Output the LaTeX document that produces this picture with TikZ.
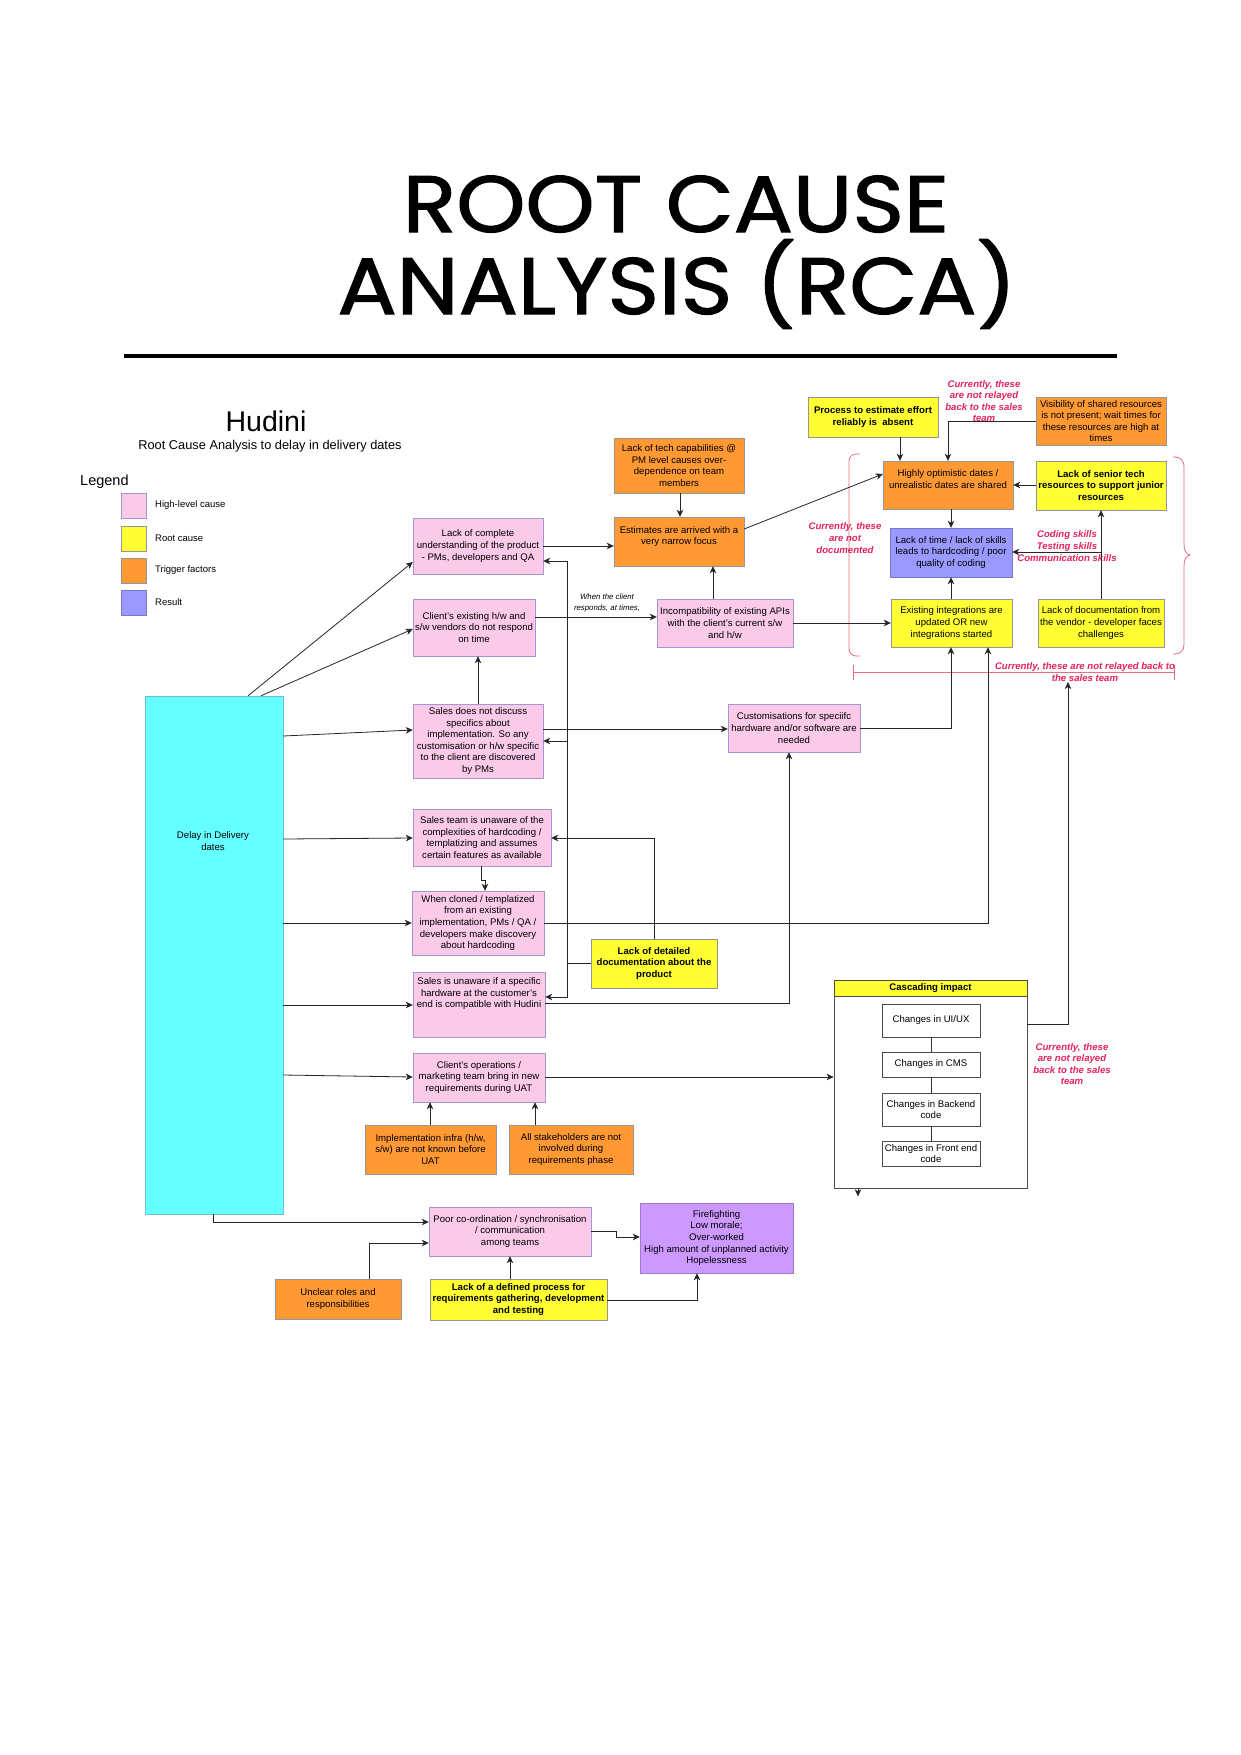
\documentclass[tikz,border=0pt]{standalone}
\usepackage{fontspec}
\setmainfont{Liberation Sans}
\newfontfamily\titlefont{Poppins}[RawFeature={embolden=1.4}]
\usetikzlibrary{arrows.meta,shadows}
\definecolor{cpink}{RGB}{250,202,232}
\definecolor{cpinkb}{RGB}{165,150,210}
\definecolor{cyellow}{RGB}{255,255,51}
\definecolor{corange}{RGB}{255,153,51}
\definecolor{cgrayb}{RGB}{150,150,150}
\definecolor{cblue}{RGB}{153,153,255}
\definecolor{cblueb}{RGB}{120,120,200}
\definecolor{cpurple}{RGB}{204,153,255}
\definecolor{cpurpleb}{RGB}{160,120,210}
\definecolor{ccyan}{RGB}{102,255,255}
\definecolor{ccyanb}{RGB}{110,190,210}
\definecolor{cred}{RGB}{226,35,92}
\definecolor{credl}{RGB}{228,110,130}
\newcommand\bx[7]{\node[#2, minimum width={(#5-#3)*1pt}, minimum height={(#6-#4)*1pt}] (#1) at ({(#3+#5)/2},{(#4+#6)/2}) {#7};}
\tikzset{
  boxbase/.style={draw, rectangle, align=center, inner sep=0pt, font=\fontsize{9.6}{11.6}\selectfont},
  box/.style={boxbase, drop shadow={shadow xshift=1.3pt,shadow yshift=-1.3pt,opacity=0.25,fill=black}},
  pinkbox/.style={box, fill=cpink, draw=cpinkb},
  yellowbox/.style={box, fill=cyellow, draw=cgrayb},
  ybold/.style={yellowbox, font=\fontsize{9.6}{11.6}\selectfont\bfseries},
  orangebox/.style={box, fill=corange, draw=cgrayb},
  bluebox/.style={box, fill=cblue, draw=cblueb},
  purplebox/.style={box, fill=cpurple, draw=cpurpleb},
  whitebox/.style={boxbase, fill=white, draw=black!70, line width=0.7pt},
  cascbox/.style={boxbase, fill=white, draw=black!70, line width=0.7pt},
  casch/.style={boxbase, fill=cyellow, draw=black!70, line width=0.7pt, font=\fontsize{9.6}{11.6}\selectfont\bfseries},
  arr/.style={draw=black!85, line width=0.8pt, -{Stealth[length=7pt,width=6.5pt,inset=2pt]}},
  ln/.style={draw=black!80, line width=0.8pt},
  redtxt/.style={text=cred, font=\fontsize{9.6}{11.6}\selectfont\bfseries\itshape, align=center, inner sep=0pt},
  redline/.style={draw=credl, line width=0.8pt},
  legtxt/.style={anchor=west, inner sep=0pt, font=\fontsize{9.5}{11}\selectfont},
}
\begin{document}
\begin{tikzpicture}[x=1pt,y=-1pt]
\useasboundingbox[fill=white] (0,0) rectangle (1241,1755);
% ---------- title ----------
\node[anchor=base, inner sep=0pt] (t1) at (676,232) {\titlefont\fontsize{80}{80}\selectfont\scalebox{1.1}[1]{ROOT CAUSE}};
\node[anchor=base, inner sep=0pt] (t2) at (677,314) {\titlefont\fontsize{80}{80}\selectfont\scalebox{1.1}[1]{ANALYSIS (RCA)}};
\draw[line width=4.5pt] (124,356) -- (1117,356);
% ---------- header and legend ----------
\node[inner sep=0pt, font=\fontsize{28.5}{30}\selectfont] (hud) at (266,421) {Hudini};
\node[inner sep=0pt, font=\fontsize{12.8}{14}\selectfont] (hudsub) at (270,446) {Root Cause Analysis to delay in delivery dates};
\node[anchor=west, inner sep=0pt, font=\fontsize{14.5}{16}\selectfont] (legend) at (80,482) {Legend};
\bx{lg1}{pinkbox}{121}{493}{146}{518}{}
\bx{lg2}{yellowbox}{121}{526}{146}{551}{}
\bx{lg3}{orangebox}{121}{558}{146}{583}{}
\bx{lg4}{bluebox}{121}{590}{146}{615}{}
\node[legtxt] (lt1) at (155,505) {High-level cause};
\node[legtxt] (lt2) at (155,538) {Root cause};
\node[legtxt] (lt3) at (155,570) {Trigger factors};
\node[legtxt] (lt4) at (155,602) {Result};
% ---------- result box ----------
\bx{Delay}{box, fill=ccyan, draw=ccyanb}{145}{696}{283}{1214}{}
\node[align=center, inner sep=0pt, font=\fontsize{9.6}{11.6}\selectfont] (DelayTxt) at (213,841) {Delay in Delivery\\dates};
% ---------- left column ----------
\bx{LackComplete}{pinkbox}{413}{518}{543}{574}{Lack of complete\\understanding of the product\\- PMs, developers and QA}
\bx{ClientExisting}{pinkbox}{413}{599}{535}{656}{Client's existing h/w and\\s/w vendors do not respond\\on time}
\bx{SalesNotDiscuss}{pinkbox}{413}{704}{543}{778}{Sales does not discuss\\specifics about\\implementation. So any\\customisation or h/w specific\\to the client are discovered\\by PMs}
\bx{SalesTeamUnaware}{pinkbox}{413}{809}{551}{866}{Sales team is unaware of the\\complexities of hardcoding /\\templatizing and assumes\\certain features as available}
\bx{WhenCloned}{pinkbox}{412}{891}{544}{955}{When cloned / templatized\\from an existing\\implementation, PMs / QA /\\developers make discovery\\about hardcoding}
\bx{SalesUnaware}{pinkbox}{413}{972}{545}{1037}{Sales is unaware if a specific\\hardware at the customer's\\end is compatible with Hudini\\~\\~}
\bx{ClientOps}{pinkbox}{413}{1053}{545}{1102}{Client's operations /\\marketing team bring in new\\requirements during UAT}
\bx{ImplInfra}{orangebox}{365}{1125}{496}{1174}{Implementation infra (h/w,\\s/w) are not known before\\UAT}
\bx{AllStake}{orangebox}{509}{1125}{633}{1174}{All stakeholders are not\\involved during\\requirements phase}
\bx{Poor}{pinkbox}{429}{1207}{591}{1256}{Poor co-ordination / synchronisation\\/ communication\\among teams}
\bx{Fire}{purplebox}{640}{1203}{793}{1273}{Firefighting\\Low morale;\\Over-worked\\High amount of unplanned activity\\Hopelessness}
\bx{Unclear}{orangebox}{275}{1279}{401}{1319}{Unclear roles and\\responsibilities}
\bx{LackDefined}{ybold}{430}{1279}{607}{1320}{Lack of a defined process for\\requirements gathering, development\\and testing}
% ---------- middle ----------
\bx{LackTech}{orangebox}{614}{438}{744}{493}{Lack of tech capabilities @\\PM level causes over-\\dependence on team\\members}
\bx{Estimates}{orangebox}{614}{517}{744}{566}{Estimates are arrived with a\\very narrow focus\\~}
\bx{Incompat}{pinkbox}{657}{599}{793}{647}{Incompatibility of existing APIs\\with the client's current s/w\\and h/w}
\bx{Custom}{pinkbox}{728}{704}{860}{752}{Customisations for speciifc\\hardware and/or software are\\needed}
\bx{DetailedDoc}{ybold}{591}{939}{717}{988}{Lack of detailed\\documentation about the\\product}
% ---------- top right ----------
\bx{Process}{ybold}{808}{397}{938}{437}{Process to estimate effort\\reliably is\ \ absent}
\bx{Visibility}{orangebox}{1036}{397}{1166}{445}{Visibility of shared resources\\is not present; wait times for\\these resources are high at\\times}
\bx{Highly}{orangebox}{883}{461}{1013}{509}{Highly optimistic dates /\\unrealistic dates are shared\\~}
\bx{Senior}{ybold}{1036}{461}{1166}{510}{Lack of senior tech\\resources to support junior\\resources}
\bx{LackTime}{bluebox}{890}{528}{1012}{577}{Lack of time / lack of skills\\leads to hardcoding / poor\\quality of coding}
\bx{Existing}{yellowbox}{891}{599}{1012}{647}{Existing integrations are\\updated OR new\\integrations started}
\bx{VendorDoc}{yellowbox}{1038}{599}{1164}{647}{Lack of documentation from\\the vendor - developer faces\\challenges}
% ---------- cascading impact ----------
\bx{Casc}{cascbox}{834}{980}{1027}{1188}{}
\bx{CascHead}{casch}{834}{980}{1027}{996}{Cascading impact}
\bx{UIUX}{whitebox}{882}{1004}{980}{1037}{Changes in UI/UX}
\bx{CMS}{whitebox}{882}{1052}{980}{1077}{Changes in CMS}
\bx{Backend}{whitebox}{882}{1093}{980}{1126}{Changes in Backend\\code}
\bx{Frontend}{whitebox}{882}{1141}{980}{1166}{Changes in Front end\\code}
\draw[ln] (UIUX.south) -- (CMS.north);
\draw[ln] (CMS.south) -- (Backend.north);
\draw[ln] (Backend.south) -- (Frontend.north);
% ---------- red annotations ----------
\draw[redline, rounded corners=7pt] (860,454) -- (849,454) -- (849,656) -- (860,656);
\draw[redline] (1173,457) .. controls (1181,457) and (1184,460) .. (1184,468) -- (1184,544) .. controls (1184,551) and (1186,554) .. (1190,555) .. controls (1186,556) and (1184,559) .. (1184,566) -- (1184,644) .. controls (1184,651) and (1181,654) .. (1173,654);
\draw[redline] (853,672) -- (1174,672);
\draw[redline] (853,665) -- (853,680);
\draw[redline] (1174,665) -- (1174,680);
\node[redtxt] (rt1) at (984,401) {Currently, these\\are not relayed\\back to the sales\\team};
\node[redtxt] (rt2) at (845,538) {Currently, these\\are not\\documented};
\node[redtxt] (rt3) at (1067,546) {Coding skills\\Testing skills\\Communication skills};
\node[redtxt] (rt4) at (1085,672) {Currently, these are not relayed back to\\the sales team};
\node[redtxt] (rt5) at (1072,1064) {Currently, these\\are not relayed\\back to the sales\\team};
\node[align=center, inner sep=0pt, font=\fontsize{7.8}{10.8}\selectfont\itshape] (whenlbl) at (607,603) {When the client\\responds, at times,};
% ---------- connectors ----------
\coordinate (skj) at (1101,552);
\coordinate (redtip) at (1068,682);
\coordinate (busj) at (567,963);
\coordinate (bus2) at (567,741);
\draw[arr] (Process.south -| 900,0) -- (Highly.north -| 900,0);
\draw[arr] (Visibility.west |- 0,421) -| (Highly.north -| 948,0);
\draw[arr] (Senior.west |- 0,485) -- (Highly.east |- 0,485);
\draw[arr] (Highly.south -| 951,0) -- (LackTime.north -| 951,0);
\draw[arr] (Existing.north -| 951,0) -- (LackTime.south -| 951,0);
\draw[arr] (VendorDoc.north -| 1101,0) -- (Senior.south -| 1101,0);
\draw[arr] (skj) -- (LackTime.east |- skj);
\draw[arr] (Estimates.east |- 0,529) -- (Highly.west |- 0,474);
\draw[arr] (LackTech.south -| 680,0) -- (Estimates.north -| 680,0);
\draw[arr] (Incompat.north -| 713,0) -- (Estimates.south -| 713,0);
\draw[arr] (Incompat.east |- 0,623) -- (Existing.west |- 0,623);
\draw[arr] (ClientExisting.east |- 0,617) -- (Incompat.west |- 0,617);
\draw[arr] (LackComplete.east |- 0,546) -- (Estimates.west |- 0,546);
\draw[arr] (Custom.east |- 0,728) -| (Existing.south -| 951,0);
\draw[arr] (WhenCloned.east |- 0,923) -| (Existing.south -| 988,0);
\draw[arr] (Casc.east |- 0,1024) -| (redtip);
\draw[arr] (SalesNotDiscuss.north -| 478,0) -- (ClientExisting.south -| 478,0);
\draw[arr] (SalesNotDiscuss.east |- 0,729) -- (Custom.west |- 0,729);
\draw[arr] (DetailedDoc.west |- busj) -- (busj) -- (567,561) -- (LackComplete.east |- 0,561);
\draw[arr] (bus2) -- (SalesNotDiscuss.east |- bus2);
\draw[arr] (busj) -- (567,997) -- (SalesUnaware.east |- 0,997);
\draw[arr] (DetailedDoc.north -| 654,0) |- (SalesTeamUnaware.east |- 0,838);
\draw[arr] (SalesTeamUnaware.south -| 481,0) -- (481,880) -- (485,880) -- (WhenCloned.north -| 485,0);
\draw[arr] (SalesUnaware.east |- 0,1003) -| (Custom.south -| 789,0);
\draw[arr] (ClientOps.east |- 0,1077) -- (Casc.west |- 0,1077);
\draw[arr] (Delay.north -| 248,0) -- (LackComplete.west |- 0,562);
\draw[arr] (Delay.north -| 261,0) -- (ClientExisting.west |- 0,629);
\draw[arr] (Delay.east |- 0,736) -- (SalesNotDiscuss.west |- 0,730);
\draw[arr] (Delay.east |- 0,839) -- (SalesTeamUnaware.west |- 0,838);
\draw[arr] (Delay.east |- 0,923) -- (WhenCloned.west |- 0,923);
\draw[arr] (Delay.east |- 0,1005) -- (SalesUnaware.west |- 0,1005);
\draw[arr] (Delay.east |- 0,1075) -- (ClientOps.west |- 0,1077);
\draw[arr] (Delay.south -| 213,0) |- (Poor.west |- 0,1222);
\draw[arr] (Unclear.north -| 369,0) |- (Poor.west |- 0,1243);
\draw[arr] (LackDefined.north -| 510,0) -- (Poor.south -| 510,0);
\draw[arr] (LackDefined.east |- 0,1300) -| (Fire.south -| 697,0);
\draw[arr] (Poor.east |- 0,1231) -- (616,1231) -- (616,1237) -- (Fire.west |- 0,1237);
\draw[arr] (ImplInfra.north -| 430,0) -- (ClientOps.south -| 430,0);
\draw[arr] (AllStake.north -| 535,0) -- (ClientOps.south -| 535,0);
\draw[arr] (Casc.south -| 858,0) -- ++(0,8);
\end{tikzpicture}
\end{document}
